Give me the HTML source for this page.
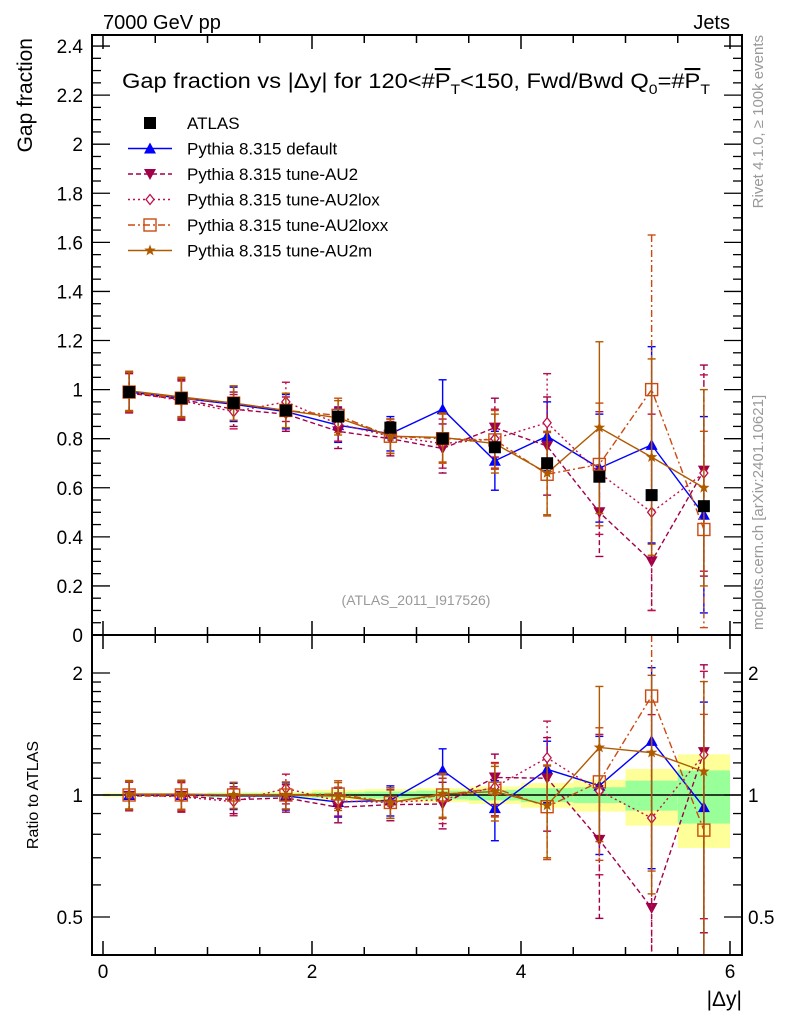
<!DOCTYPE html>
<html><head><meta charset="utf-8"><style>
body{margin:0;background:#fff;}
svg{display:block;font-family:"Liberation Sans",sans-serif;}
</style></head><body>
<svg id="c" width="786" height="1024" xmlns="http://www.w3.org/2000/svg">
<text x="103" y="29" font-size="20">7000 GeV pp</text>
<text x="730" y="29" font-size="20" text-anchor="end">Jets</text>
<text transform="translate(32,38) rotate(-90)" font-size="21" text-anchor="end">Gap fraction</text>
<text transform="translate(38,795) rotate(-90)" font-size="16" text-anchor="middle">Ratio to ATLAS</text>
<text x="742" y="1006" font-size="21" text-anchor="end">|Δy|</text>
<text transform="translate(763,35) rotate(-90)" font-size="15" fill="#999" text-anchor="end">Rivet 4.1.0, ≥ 100k events</text>
<text transform="translate(763,630) rotate(-90)" font-size="15" fill="#999">mcplots.cern.ch [arXiv:2401.10621]</text>
<text x="416" y="605" font-size="14" fill="#999" text-anchor="middle">(ATLAS_2011_I917526)</text>
<text x="122" y="88" font-size="21" textLength="588" lengthAdjust="spacingAndGlyphs">Gap fraction vs |Δy| for 120&lt;#<tspan text-decoration="overline">P</tspan><tspan font-size="14" dy="6">T</tspan><tspan dy="-6">&lt;150, Fwd/Bwd Q</tspan><tspan font-size="14" dy="6">0</tspan><tspan dy="-6">=#</tspan><tspan text-decoration="overline">P</tspan><tspan font-size="14" dy="6">T</tspan></text>
<g id="plot"></g>
<g id="legend"></g>
</svg>
<script>
const xc=[0.25,0.75,1.25,1.75,2.25,2.75,3.25,3.75,4.25,4.75,5.25,5.75];
const atlas=[0.99,0.965,0.945,0.915,0.89,0.845,0.80,0.765,0.70,0.645,0.57,0.525];
const bandStat=[0.005,0.005,0.01,0.01,0.015,0.02,0.025,0.03,0.04,0.045,0.085,0.15];
const bandTot=[0.01,0.01,0.015,0.02,0.03,0.035,0.04,0.05,0.07,0.09,0.16,0.26];
const vDef=[0.99,0.965,0.94,0.91,0.855,0.82,0.92,0.71,0.81,0.68,0.775,0.49];
const eDef=[0.08,0.08,0.07,0.07,0.07,0.07,0.12,0.12,0.14,0.22,0.40,0.40];
const vAU2=[0.985,0.96,0.92,0.90,0.83,0.80,0.76,0.845,0.77,0.50,0.30,0.67];
const eAU2=[0.08,0.08,0.07,0.07,0.07,0.07,0.10,0.12,0.20,0.18,0.20,0.43];
const vLox=[0.99,0.955,0.91,0.95,0.86,0.81,0.78,0.80,0.865,0.66,0.50,0.66];
const eLox=[0.08,0.08,0.07,0.08,0.07,0.07,0.10,0.12,0.20,0.25,0.40,0.40];
const vLoxx=[0.99,0.965,0.945,0.915,0.895,0.81,0.80,0.795,0.655,0.695,1.00,0.43];
const eLoxx=[0.08,0.08,0.07,0.07,0.07,0.07,0.10,0.12,0.17,0.25,0.63,0.40];
const vM=[0.995,0.97,0.945,0.915,0.885,0.81,0.805,0.78,0.66,0.845,0.725,0.60];
const eM=[0.08,0.08,0.07,0.07,0.07,0.07,0.10,0.12,0.17,0.35,0.40,0.40];
const NS="http://www.w3.org/2000/svg";
const L=92,R=742,T=35,B=635,RT=635,RB=955;
const X=v=>103+(v)*104.5;
const Y=v=>635-v*245.4;
const RY=v=>795-Math.log2(v)*122;
const g=document.getElementById('plot');
function el(t,a,p){const e=document.createElementNS(NS,t);for(const k in a)e.setAttribute(k,a[k]);(p||g).appendChild(e);return e;}
for(let i=0;i<xc.length;i++){
 let r=el('rect',{x:X(xc[i]-0.25),y:RY(1+bandTot[i]),width:104.5/2,height:RY(1-bandTot[i])-RY(1+bandTot[i]),fill:'#ffff99'});
 
 let s=el('rect',{x:X(xc[i]-0.25),y:RY(1+bandStat[i]),width:104.5/2,height:RY(1-bandStat[i])-RY(1+bandStat[i]),fill:'#99ff99'});
 
}
el('line',{x1:L,x2:R,y1:RY(1),y2:RY(1),stroke:'#000','stroke-width':1.5});
const series=[
 {n:'Pythia 8.315 default',v:vDef,e:eDef,c:'#0000ff',d:'',m:'tri'},
 {n:'Pythia 8.315 tune-AU2',v:vAU2,e:eAU2,c:'#a0004a',d:'5,3',m:'tridown'},
 {n:'Pythia 8.315 tune-AU2lox',v:vLox,e:eLox,c:'#c0104a',d:'2,3',m:'diamond'},
 {n:'Pythia 8.315 tune-AU2loxx',v:vLoxx,e:eLoxx,c:'#cc4a10',d:'7,3,2,3',m:'square'},
 {n:'Pythia 8.315 tune-AU2m',v:vM,e:eM,c:'#b05a00',d:'',m:'star'}];
function marker(m,x,y,c,p){
 let e;
 if(m==='tri')e=el('polygon',{points:`${x},${y-6} ${x-6},${y+5} ${x+6},${y+5}`,fill:c},p);
 else if(m==='tridown')e=el('polygon',{points:`${x},${y+6} ${x-6},${y-5} ${x+6},${y-5}`,fill:c},p);
 else if(m==='diamond')e=el('polygon',{points:`${x},${y-5} ${x-4},${y} ${x},${y+5} ${x+4},${y}`,fill:'#fff',stroke:c,'stroke-width':1.3},p);
 else if(m==='square')e=el('rect',{x:x-6,y:y-6,width:12,height:12,fill:'none',stroke:c,'stroke-width':1.4},p);
 else if(m==='star'){let pts=[];for(let k=0;k<10;k++){const r=k%2?2.5:6,a=-Math.PI/2+k*Math.PI/5;pts.push((x+r*Math.cos(a))+','+(y+r*Math.sin(a)));}e=el('polygon',{points:pts.join(' '),fill:c},p);}
 else e=el('rect',{x:x-6,y:y-6,width:12,height:12,fill:c},p);
 return e;
}
function clipY(y,top,bot){return Math.max(top,Math.min(bot,y));}
series.forEach((s,si)=>{
 const grp=el('g',{});
 
 
 [['main',Y,s.v,s.e,T,B],['ratio',RY,s.v.map((v,i)=>v/atlas[i]),s.e.map((e,i)=>e/atlas[i]),RT,RB]].forEach(([pn,f,vs,es,top,bot])=>{
  let pts=xc.map((x,i)=>X(x)+','+f(vs[i])).join(' ');
  el('polyline',{points:pts,fill:'none',stroke:s.c,'stroke-width':1.4,'stroke-dasharray':s.d},grp);
  xc.forEach((x,i)=>{
   const y1=clipY(f(vs[i]+es[i]),top,bot),y2=clipY(f(Math.max(vs[i]-es[i],0.01)),top,bot);
   el('line',{x1:X(x),x2:X(x),y1:y1,y2:y2,stroke:s.c,'stroke-width':1.4,'stroke-dasharray':s.d},grp);
   if(y1>top)el('line',{x1:X(x)-4,x2:X(x)+4,y1:y1,y2:y1,stroke:s.c,'stroke-width':1.4},grp);
   if(y2<bot)el('line',{x1:X(x)-4,x2:X(x)+4,y1:y2,y2:y2,stroke:s.c,'stroke-width':1.4},grp);
   const fy=f(vs[i]);
   if(fy>top&&fy<bot){const mk=marker(s.m,X(x),fy,s.c,grp);}
  });
 });
});
xc.forEach((x,i)=>{const m=marker('sq',X(x),Y(atlas[i]),'#000');});
[[T,B],[RT,RB]].forEach(([t,b])=>el('rect',{x:L,y:t,width:R-L,height:b-t,fill:'none',stroke:'#000','stroke-width':2}));
for(let v=0;v<=6.001;v+=0.5){const maj=Math.abs(v%2)<1e-6;const l=maj?14:8;
 [[T,1],[B,-1],[RT,1],[RB,-1]].forEach(([y,d])=>el('line',{x1:X(v),x2:X(v),y1:y,y2:y+d*l,stroke:'#000','stroke-width':1.5}));
 if(maj){const t=el('text',{x:X(v),y:978,'font-size':19,'text-anchor':'middle'});t.textContent=v;}}
for(let k=0;k<=48;k++){const v=k*0.05;const maj=k%4===0;const l=maj?18:9;const y=Y(v);if(y<T)continue;
 el('line',{x1:L,x2:L+l,y1:y,y2:y,stroke:'#000','stroke-width':1.3});el('line',{x1:R,x2:R-l,y1:y,y2:y,stroke:'#000','stroke-width':1.3});
 if(maj){const t=el('text',{x:83,y:y+7,'font-size':19,'text-anchor':'end'});t.textContent=(Math.round(v*10)/10).toString();}}
const rt=[0.5,0.6,0.7,0.8,0.9,1,1.1,1.2,1.3,1.4,1.5,1.6,1.7,1.8,1.9,2];
rt.forEach(v=>{const maj=(v===0.5||v===1||v===2);const l=maj?18:9;const y=RY(v);
 el('line',{x1:L,x2:L+l,y1:y,y2:y,stroke:'#000','stroke-width':1.3});el('line',{x1:R,x2:R-l,y1:y,y2:y,stroke:'#000','stroke-width':1.3});
 if(maj){const t=el('text',{x:83,y:y+7,'font-size':19,'text-anchor':'end'});t.textContent=v;
 const t2=el('text',{x:748,y:y+7,'font-size':19});t2.textContent=v;}});
const lg=document.getElementById('legend');
const ents=[{n:'ATLAS',m:'sq',c:'#000',d:''}].concat(series);
ents.forEach((s,i)=>{const y=123+i*25.5;const gg=el('g',{},lg);
 
 if(i>0)el('line',{x1:128,x2:172,y1:y,y2:y,stroke:s.c,'stroke-width':1.4,'stroke-dasharray':s.d},gg);
 marker(s.m,150,y,s.c,gg);
 const t=el('text',{x:187,y:y+6,'font-size':17},gg);t.textContent=s.n;});
</script>
</body></html>
